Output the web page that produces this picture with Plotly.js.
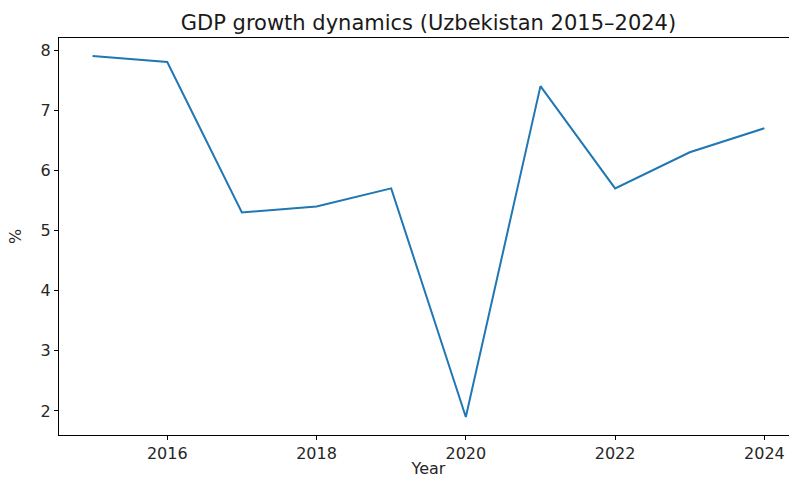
<!DOCTYPE html>
<html>
<head>
<meta charset="utf-8">
<script src="https://cdn.plot.ly/plotly-3.0.1.min.js"></script>
<style>
html,body{margin:0;padding:0;overflow:hidden;background:#fff;}
#chart{width:800px;height:478px;}
</style>
</head>
<body>
<div id="chart"></div>
<script>
const years = [2015, 2016, 2017, 2018, 2019, 2020, 2021, 2022, 2023, 2024];
const gdpGrowth = [7.9, 7.8, 5.3, 5.4, 5.7, 1.9, 7.4, 5.7, 6.3, 6.7];
const xTicks = [2016, 2018, 2020, 2022, 2024];
const yTicks = [2, 3, 4, 5, 6, 7, 8];

const font = {family: "DejaVu Sans", color: "#262626"};

Plotly.newPlot("chart", [{
  x: years,
  y: gdpGrowth,
  type: "scatter",
  mode: "lines",
  line: {color: "#1f77b4", width: 2},
  hoverinfo: "skip"
}], {
  width: 800,
  height: 478,
  margin: {l: 59, r: 2, t: 38, b: 43},
  paper_bgcolor: "#fff",
  plot_bgcolor: "#fff",
  showlegend: false,
  title: {
    text: "GDP growth dynamics (Uzbekistan 2015–2024)",
    font: {family: "DejaVu Sans", size: 21, color: "#1a1a1a"},
    x: 0.5, xref: "paper", xanchor: "center",
    y: 1, yref: "paper", yanchor: "bottom", pad: {b: 8}
  },
  xaxis: {
    range: [2014.55, 2024.45],
    tickvals: xTicks,
    ticktext: xTicks.map(String),
    ticks: "outside", ticklen: 4, tickwidth: 1, tickcolor: "#000",
    showgrid: false, zeroline: false,
    showline: true, linecolor: "#000", linewidth: 1, mirror: true,
    tickfont: {...font, size: 16},
    title: {text: "Year", font: {...font, size: 16}, standoff: 7},
    automargin: false
  },
  yaxis: {
    range: [1.6, 8.2],
    tickvals: yTicks,
    ticktext: yTicks.map(String),
    ticks: "outside", ticklen: 4, tickwidth: 1, tickcolor: "#000",
    showgrid: false, zeroline: false,
    showline: true, linecolor: "#000", linewidth: 1, mirror: true,
    tickfont: {...font, size: 16},
    title: {text: "%", font: {...font, size: 16}, standoff: 15},
    automargin: false
  }
}, {staticPlot: true, displayModeBar: false});
</script>
</body>
</html>
